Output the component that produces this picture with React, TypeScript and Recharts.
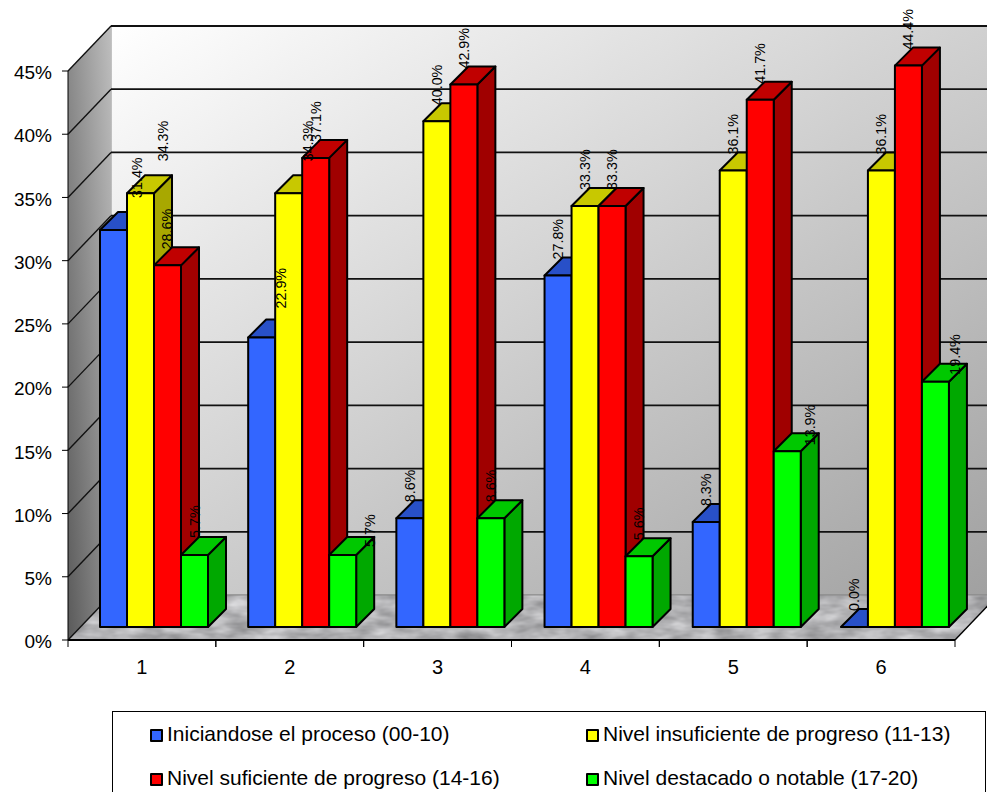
import React from "react";
import {
  BarChart,
  Bar,
  XAxis,
  YAxis,
  CartesianGrid,
  LabelList,
  Legend,
} from "recharts";

const categories = ["1", "2", "3", "4", "5", "6"];
const iniciandose = [31.4, 22.9, 8.6, 27.8, 8.3, 0.0];
const insuficiente = [34.3, 34.3, 40.0, 33.3, 36.1, 36.1];
const suficiente = [28.6, 37.1, 42.9, 33.3, 41.7, 44.4];
const destacado = [5.7, 5.7, 8.6, 5.6, 13.9, 19.4];
const yTicks = [0, 5, 10, 15, 20, 25, 30, 35, 40, 45];

const chartData = categories.map((name, i) => ({
  name,
  iniciandose: iniciandose[i],
  insuficiente: insuficiente[i],
  suficiente: suficiente[i],
  destacado: destacado[i],
}));

const FONT = "'Liberation Sans', Arial, sans-serif";
const W = 987;
const H = 792;
const PLOT_LEFT = 68;
const PLOT_RIGHT = 955;
const PLOT_TOP = 71;
const PLOT_BOTTOM = 640;
const LEGEND_HEIGHT = 81;
const BAND = (PLOT_RIGHT - PLOT_LEFT) / categories.length;

// Projection of the box: wall depth, and where the bars stand on the floor.
const WALL_DX = 43;
const WALL_DY = 44;
const BAR_SHIFT_X = 12;
const BAR_DRIFT_X = 0.35;
const BAR_SHIFT_Y = 13;
const BAR_DEPTH = 18;

type Face = { front: string; top: string; side: string };
const series: { key: string; name: string; face: Face; values: number[] }[] = [
  { key: "iniciandose", name: "Iniciandose el proceso (00-10)", face: { front: "#3366FF", top: "#2850C8", side: "#2040A8" }, values: iniciandose },
  { key: "insuficiente", name: "Nivel insuficiente de progreso (11-13)", face: { front: "#FFFF00", top: "#C8C800", side: "#A8A800" }, values: insuficiente },
  { key: "suficiente", name: "Nivel suficiente de progreso (14-16)", face: { front: "#FF0000", top: "#C00000", side: "#A00000" }, values: suficiente },
  { key: "destacado", name: "Nivel destacado o notable (17-20)", face: { front: "#00FF00", top: "#00C800", side: "#00A800" }, values: destacado },
];

// Value labels that sit off their column in the drawing: "series:category" -> [dx, dy].
const labelNudges: Record<string, [number, number]> = {
  "iniciandose:0": [24, -16],
  "insuficiente:0": [23, -16],
  "iniciandose:1": [19, -13],
  "insuficiente:1": [19, -16],
  "destacado:0": [1, -1],
  "destacado:1": [27, 8],
  "destacado:4": [23, 10],
  "destacado:5": [20, 9],
};

const Box3D = (props: any) => {
  const { x, y, width, height, face, index } = props;
  const fx = x + BAR_SHIFT_X + index * BAR_DRIFT_X;
  const fy = y - BAR_SHIFT_Y;
  const h = Math.max(height, 0);
  const d = BAR_DEPTH;
  const edge = { stroke: "#000", strokeWidth: 2, strokeLinejoin: "round" as const };
  return (
    <g>
      {h > 0 && (
        <polygon
          points={`${fx + width},${fy} ${fx + width + d},${fy - d} ${fx + width + d},${fy + h - d} ${fx + width},${fy + h}`}
          fill={face.side}
          {...edge}
        />
      )}
      <polygon
        points={`${fx},${fy} ${fx + d},${fy - d} ${fx + width + d},${fy - d} ${fx + width},${fy}`}
        fill={face.top}
        {...edge}
      />
      {h > 0 && <rect x={fx} y={fy} width={width} height={h} fill={face.front} {...edge} />}
    </g>
  );
};

const ValueLabel = (props: any) => {
  const { x, y, width, value, index, seriesKey } = props;
  const [dx, dy] = labelNudges[`${seriesKey}:${index}`] ?? [0, 0];
  const cx = x + width / 2 + BAR_SHIFT_X + index * BAR_DRIFT_X + dx;
  const by = y - BAR_SHIFT_Y - 16 + dy;
  return (
    <text
      x={cx}
      y={by}
      transform={`rotate(-90 ${cx} ${by})`}
      dominantBaseline="central"
      fontFamily={FONT}
      fontSize={14.3}
      fill="#000"
    >
      {`${Number(value).toFixed(1)}%`}
    </text>
  );
};

// Back wall, side wall and floor of the box, painted beneath the grid rules.
const Walls = () => {
  const left = PLOT_LEFT;
  const right = PLOT_RIGHT;
  const top = PLOT_TOP;
  const bottom = PLOT_BOTTOM;
  const dx = WALL_DX;
  const dy = WALL_DY;
  return (
    <g>
      <defs>
        <linearGradient id="backWall" x1="0" y1="0" x2="1" y2="1">
          <stop offset="0" stopColor="#FFFFFF" />
          <stop offset="1" stopColor="#A0A0A0" />
        </linearGradient>
        <linearGradient id="sideWall" x1="1" y1="0" x2="0" y2="1">
          <stop offset="0" stopColor="#BEBEBE" />
          <stop offset="1" stopColor="#5A5A5A" />
        </linearGradient>
        <filter id="floorGrain" x="0" y="0" width="100%" height="100%" colorInterpolationFilters="sRGB">
          <feTurbulence type="fractalNoise" baseFrequency="0.035 0.09" numOctaves="3" seed="7" result="n" />
          <feColorMatrix
            in="n"
            type="matrix"
            values="0 0 0 0.4 0.5  0 0 0 0.4 0.5  0 0 0 0.4 0.51  0 0 0 0 1"
            result="c"
          />
          <feComposite in="c" in2="SourceGraphic" operator="in" />
        </filter>
      </defs>
      <rect
        x={left + dx}
        y={top - dy - 1}
        width={right - left}
        height={bottom - top}
        fill="url(#backWall)"
        stroke="#8A8A8A"
        strokeWidth={1}
      />
      <polygon
        points={`${left},${top} ${left + dx},${top - dy - 1} ${left + dx},${bottom - dy - 1} ${left},${bottom}`}
        fill="url(#sideWall)"
      />
      <polygon
        points={`${left},${bottom} ${right},${bottom} ${right + dx},${bottom - dy - 1} ${left + dx},${bottom - dy - 1}`}
        fill="#B4B4B6"
        filter="url(#floorGrain)"
      />
      <line x1={right} y1={bottom} x2={right + dx} y2={bottom - dy - 1} stroke="#000" strokeWidth={1.4} />
      <line x1={left} y1={top} x2={left} y2={bottom} stroke="#000" strokeWidth={1} />
    </g>
  );
};

// Each grid value runs along the back wall and down the side wall to the axis.
const GridRule = (props: any) => {
  const { x1, y1, x2, index } = props;
  const atFloor = Math.abs(y1 - PLOT_BOTTOM) < 0.5;
  return (
    <g key={`rule-${index}`}>
      {index === 0 && <Walls />}
      <line
        x1={x1 + WALL_DX}
        y1={y1 - WALL_DY - 1}
        x2={x2 + WALL_DX}
        y2={y1 - WALL_DY - 1}
        stroke={atFloor ? "#8A8A8A" : "#111"}
        strokeWidth={atFloor ? 1 : 1.8}
      />
      <line
        x1={x1}
        y1={y1}
        x2={x1 + WALL_DX}
        y2={y1 - WALL_DY - 1}
        stroke="#111"
        strokeWidth={1.4}
      />
    </g>
  );
};

const CategoryTick = (props: any) => {
  const { x, y, payload } = props;
  return (
    <g>
      <line x1={x - BAND / 2} y1={y - 8} x2={x - BAND / 2} y2={y - 1} stroke="#000" />
      <line x1={x + BAND / 2} y1={y - 8} x2={x + BAND / 2} y2={y - 1} stroke="#000" />
      <text x={x} y={y + 26} textAnchor="middle" fontFamily={FONT} fontSize={20} fill="#000">
        {payload.value}
      </text>
    </g>
  );
};

const LegendBox = (props: any) => {
  const items = props.payload ?? [];
  return (
    <div
      style={{
        boxSizing: "border-box",
        width: 874,
        height: LEGEND_HEIGHT,
        border: "1px solid #000",
        borderBottom: "none",
        background: "#fff",
        position: "relative",
        fontFamily: FONT,
        fontSize: 21,
        color: "#000",
      }}
    >
      {items.map((item: any, i: number) => (
        <div
          key={item.value}
          style={{
            position: "absolute",
            left: i % 2 === 0 ? 37 : 473,
            top: i < 2 ? 8 : 52,
            height: 28,
            lineHeight: "28px",
            whiteSpace: "nowrap",
          }}
        >
          <span
            style={{
              display: "inline-block",
              boxSizing: "border-box",
              width: 13,
              height: 13,
              background: item.color,
              border: "2px solid #000",
              borderRadius: 1,
              marginRight: 4,
              verticalAlign: "-1px",
            }}
          />
          {item.value}
        </div>
      ))}
    </div>
  );
};

export default function App() {
  return (
    <div style={{ position: "absolute", left: 0, top: 0, width: W, height: H, overflow: "hidden", background: "#fff" }}>
      <BarChart
        width={W}
        height={H}
        data={chartData}
        margin={{ top: PLOT_TOP, right: W - PLOT_RIGHT, bottom: 0, left: 0 }}
        barGap={0}
        barCategoryGap={20}
      >
        <CartesianGrid vertical={false} horizontal={(p: any) => <GridRule {...p} />} />
        <XAxis
          dataKey="name"
          height={H - PLOT_BOTTOM - LEGEND_HEIGHT}
          interval={0}
          tickLine={false}
          axisLine={{ stroke: "#000", strokeWidth: 2 }}
          tick={<CategoryTick />}
        />
        <YAxis
          width={PLOT_LEFT}
          domain={[0, 45]}
          ticks={yTicks}
          interval={0}
          tickFormatter={(v: number) => `${v}%`}
          axisLine={false}
          tickLine={{ stroke: "#000" }}
          tickSize={6}
          tickMargin={10}
          tick={{ fill: "#000", fontFamily: FONT, fontSize: 19, dy: 1.5 }}
        />
        <Legend
          layout="vertical"
          align="center"
          verticalAlign="bottom"
          itemSorter={null}
          wrapperStyle={{ left: 112, top: 711, bottom: "auto", right: "auto", width: 874 }}
          content={<LegendBox />}
        />
        {series.map((s) => (
          <Bar
            key={s.key}
            dataKey={s.key}
            name={s.name}
            fill={s.face.front}
            isAnimationActive={false}
            shape={(p: any) => <Box3D {...p} face={s.face} />}
          >
            <LabelList dataKey={s.key} content={(p: any) => <ValueLabel {...p} seriesKey={s.key} />} />
          </Bar>
        ))}
      </BarChart>
    </div>
  );
}
